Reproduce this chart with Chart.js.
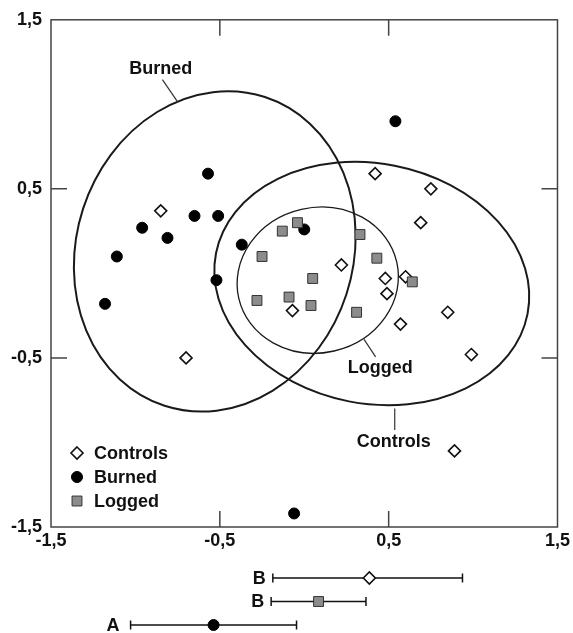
<!DOCTYPE html>
<html>
<head>
<meta charset="utf-8">
<script src="https://cdn.jsdelivr.net/npm/chart.js@4/dist/chart.umd.min.js"></script>
<style>
  html, body { margin: 0; padding: 0; background: #fff; }
  canvas { display: block; }
</style>
</head>
<body>
<canvas id="main" width="573" height="555"></canvas>
<canvas id="bars" width="573" height="78"></canvas>
<script>
// scatter points (ordination scores)
const controlsX = [-0.85, -0.70, -0.07, 0.42, 0.75, 0.69, 0.22, 0.48, 0.60, 0.49, 0.85, 0.57, 0.99, 0.89]
const controlsY = [0.37, -0.50, -0.22, 0.59, 0.50, 0.30, 0.05, -0.03, -0.02, -0.12, -0.23, -0.30, -0.48, -1.05]
const burnedX = [-1.18, -1.11, -0.96, -0.81, -0.65, -0.57, -0.51, -0.37, -0.52, 0.00, 0.54, -0.06]
const burnedY = [-0.18, 0.10, 0.27, 0.21, 0.34, 0.59, 0.34, 0.17, -0.04, 0.26, 0.90, -1.42]
const loggedX = [-0.13, -0.04, -0.25, 0.33, 0.43, 0.05, 0.64, -0.09, 0.04, 0.31, -0.28]
const loggedY = [0.25, 0.30, 0.10, 0.23, 0.09, -0.03, -0.05, -0.14, -0.19, -0.23, -0.16]

const tickValues = [-1.5, -0.5, 0.5, 1.5]

// confidence ellipses: Controls, Burned, Logged
const groups = ["Controls", "Burned", "Logged"]
const ellipseCx = [0.40, -0.53, 0.08]
const ellipseCy = [-0.06, 0.13, -0.04]
const ellipseRx = [0.94, 0.82, 0.48]
const ellipseRy = [0.71, 0.96, 0.43]
const ellipseTilt = [11, 18, -13]   // degrees, clockwise on screen

// group means with intervals along axis 1 (top row first)
const barGroups = ["Controls", "Logged", "Burned"]
const meanX = [0.38, 0.08, -0.54]
const lowX = [-0.19, -0.20, -1.03]
const highX = [0.93, 0.36, -0.05]
const groupLetters = ["B", "B", "A"]

const INK = "#111"
const GREY = "#8c8c8c"
const FONT = { family: "'Liberation Sans', Arial, Helvetica, sans-serif", size: 18, weight: "bold" }
const fontStr = `bold 18px 'Liberation Sans', Arial, Helvetica, sans-serif`
const fmt = (v) => Number(v).toFixed(1).replace(".", ",")
const pts = (xs, ys) => xs.map((x, i) => ({ x, y: ys[i] }))

const styles = {
  Controls: { pointStyle: "rectRot", radius: 6, bg: "#fff", border: INK, bw: 1.6 },
  Burned:   { pointStyle: "circle", radius: 5.5, bg: "#000", border: "#000", bw: 1 },
  Logged:   { pointStyle: "rect", radius: 7, bg: GREY, border: "#333", bw: 1 }
}

function marker(ctx, name, x, y) {
  const s = styles[name]
  ctx.save()
  ctx.lineWidth = s.bw
  ctx.strokeStyle = s.border
  ctx.fillStyle = s.bg
  ctx.beginPath()
  if (name === "Controls") {
    ctx.moveTo(x, y - s.radius); ctx.lineTo(x + s.radius, y)
    ctx.lineTo(x, y + s.radius); ctx.lineTo(x - s.radius, y); ctx.closePath()
  } else if (name === "Burned") {
    ctx.arc(x, y, s.radius, 0, Math.PI * 2)
  } else {
    const h = s.radius * Math.SQRT1_2
    ctx.rect(x - h, y - h, 2 * h, 2 * h)
  }
  ctx.fill(); ctx.stroke()
  ctx.restore()
}

// labels + leader lines for the ellipses (data coords)
const annotations = [
  { text: "Burned", x: -0.85, y: 1.21, from: [-0.84, 1.146], to: [-0.748, 1.012] },
  { text: "Logged", x: 0.45, y: -0.56, from: [0.354, -0.39], to: [0.423, -0.494] },
  { text: "Controls", x: 0.53, y: -1.0, from: [0.536, -0.799], to: [0.536, -0.927] }
]

const ellipsePlugin = {
  id: "ellipses",
  beforeDatasetsDraw(chart) {
    const { ctx, scales: { x, y } } = chart
    ctx.save()
    groups.forEach((g, i) => {
      const cx = x.getPixelForValue(ellipseCx[i])
      const cy = y.getPixelForValue(ellipseCy[i])
      const rx = Math.abs(x.getPixelForValue(ellipseCx[i] + ellipseRx[i]) - cx)
      const ry = Math.abs(y.getPixelForValue(ellipseCy[i] + ellipseRy[i]) - cy)
      ctx.beginPath()
      ctx.ellipse(cx, cy, rx, ry, ellipseTilt[i] * Math.PI / 180, 0, Math.PI * 2)
      ctx.lineWidth = g === "Logged" ? 1.3 : 2
      ctx.strokeStyle = "#1a1a1a"
      ctx.stroke()
    })
    ctx.lineWidth = 1.2
    ctx.strokeStyle = "#333"
    ctx.fillStyle = INK
    ctx.font = fontStr
    ctx.textAlign = "center"
    ctx.textBaseline = "middle"
    annotations.forEach((a) => {
      ctx.beginPath()
      ctx.moveTo(x.getPixelForValue(a.from[0]), y.getPixelForValue(a.from[1]))
      ctx.lineTo(x.getPixelForValue(a.to[0]), y.getPixelForValue(a.to[1]))
      ctx.stroke()
      ctx.fillText(a.text, x.getPixelForValue(a.x), y.getPixelForValue(a.y))
    })
    ctx.restore()
  },
  afterDraw(chart) {
    const { ctx, chartArea: a, scales: { x, y } } = chart
    ctx.save()
    ctx.strokeStyle = "#444"
    ctx.lineWidth = 1.5
    ctx.strokeRect(a.left, a.top, a.right - a.left, a.bottom - a.top)
    // inward ticks on the inner values only
    const len = 16
    ctx.beginPath()
    tickValues.slice(1, -1).forEach((v) => {
      const px = x.getPixelForValue(v), py = y.getPixelForValue(v)
      ctx.moveTo(px, a.top); ctx.lineTo(px, a.top + len)
      ctx.moveTo(px, a.bottom); ctx.lineTo(px, a.bottom - len)
      ctx.moveTo(a.left, py); ctx.lineTo(a.left + len, py)
      ctx.moveTo(a.right, py); ctx.lineTo(a.right - len, py)
    })
    ctx.stroke()
    // legend, bottom left inside the frame
    ctx.font = fontStr
    ctx.fillStyle = INK
    ctx.textAlign = "left"
    ctx.textBaseline = "middle"
    groups.forEach((g, i) => {
      const ly = a.bottom - 74 + i * 24
      marker(ctx, g, a.left + 26, ly)
      ctx.fillText(g, a.left + 43, ly + 1)
    })
    ctx.restore()
  }
}

const ds = (name, data, order) => ({
  label: name,
  data,
  order,
  pointStyle: styles[name].pointStyle,
  pointRadius: styles[name].radius,
  pointBackgroundColor: styles[name].bg,
  pointBorderColor: styles[name].border,
  pointBorderWidth: styles[name].bw
})

new Chart(document.getElementById("main"), {
  type: "scatter",
  data: {
    datasets: [
      ds("Logged", pts(loggedX, loggedY), 0),
      ds("Burned", pts(burnedX, burnedY), 1),
      ds("Controls", pts(controlsX, controlsY), 2)
    ]
  },
  options: {
    responsive: false,
    animation: false,
    events: [],
    layout: { padding: { top: 19, right: 14, left: 0, bottom: 0 } },
    plugins: { legend: { display: false }, tooltip: { enabled: false } },
    scales: {
      x: {
        type: "linear", min: -1.5, max: 1.5,
        afterBuildTicks: (s) => { s.ticks = tickValues.map((value) => ({ value })) },
        afterFit: (s) => { s.height = 28 },
        ticks: { callback: fmt, font: FONT, color: INK, padding: 3, maxRotation: 0, autoSkip: false },
        grid: { display: false, drawTicks: false },
        border: { display: false }
      },
      y: {
        type: "linear", min: -1.5, max: 1.5,
        afterBuildTicks: (s) => { s.ticks = tickValues.map((value) => ({ value })) },
        afterFit: (s) => { s.width = 51 },
        ticks: { callback: fmt, font: FONT, color: INK, padding: 9, autoSkip: false },
        grid: { display: false, drawTicks: false },
        border: { display: false }
      }
    }
  },
  plugins: [ellipsePlugin]
})

// lower panel: group means with intervals on the same x range
const rowOf = [3, 2, 1]
const letterPlugin = {
  id: "letters",
  afterDatasetsDraw(chart) {
    const { ctx, scales: { x, y } } = chart
    ctx.save()
    ctx.font = fontStr
    ctx.fillStyle = INK
    ctx.textAlign = "right"
    ctx.textBaseline = "middle"
    groupLetters.forEach((t, i) => {
      const gap = t === "A" ? 11 : 7
      ctx.fillText(t, x.getPixelForValue(lowX[i]) - gap, y.getPixelForValue(rowOf[i]) + 1)
    })
    ctx.restore()
  }
}

const barSets = []
barGroups.forEach((g, i) => {
  barSets.push({
    label: g + " interval",
    data: [{ x: lowX[i], y: rowOf[i] }, { x: highX[i], y: rowOf[i] }],
    showLine: true,
    borderColor: INK,
    borderWidth: 1.5,
    pointStyle: "line",
    rotation: 90,
    pointRadius: 4.5,
    pointBorderColor: INK,
    pointBorderWidth: 1.5,
    order: 5,
    clip: false
  })
  barSets.push({ ...ds(g, [{ x: meanX[i], y: rowOf[i] }], 0), clip: false })
})

new Chart(document.getElementById("bars"), {
  type: "scatter",
  data: { datasets: barSets },
  options: {
    responsive: false,
    animation: false,
    events: [],
    layout: { padding: { top: 23, right: 14, left: 51, bottom: 7 } },
    plugins: { legend: { display: false }, tooltip: { enabled: false } },
    scales: {
      x: { type: "linear", min: -1.5, max: 1.5, display: false },
      y: { type: "linear", min: 1, max: 3, display: false }
    }
  },
  plugins: [letterPlugin]
})
</script>
</body>
</html>
